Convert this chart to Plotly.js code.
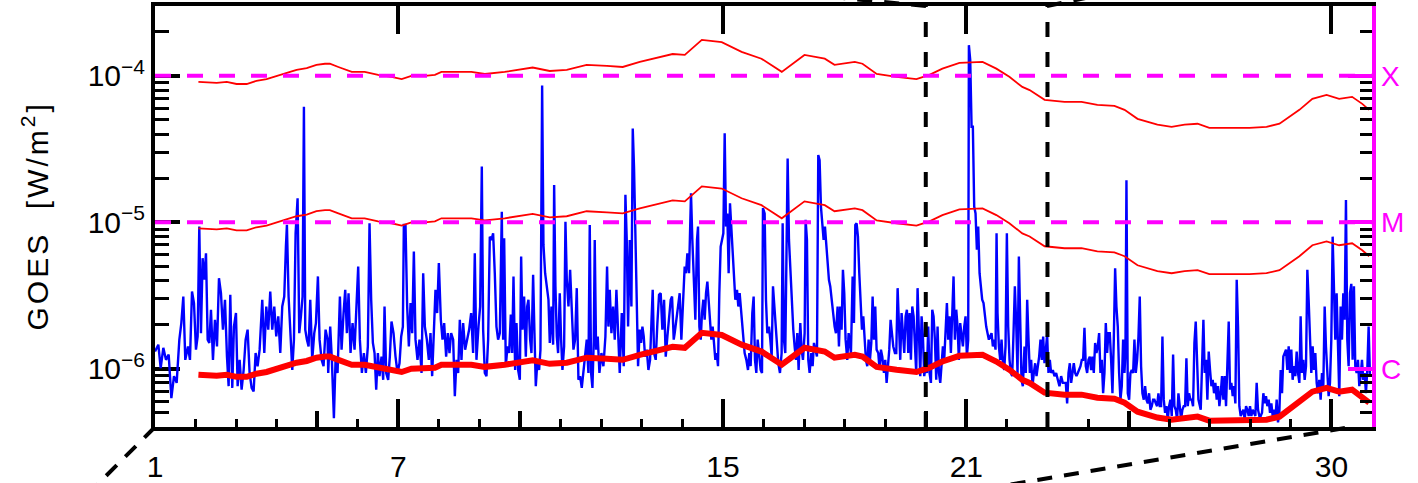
<!DOCTYPE html>
<html>
<head>
<meta charset="utf-8">
<script src="https://cdn.plot.ly/plotly-3.0.1.min.js"></script>
<style>
html,body{margin:0;padding:0;background:#ffffff;}
#chart{width:1418px;height:483px;}
.annotation-text{letter-spacing:3px;}
</style>
</head>
<body>
<div id="chart"></div>
<script>
// ---------------- data ----------------
// time axis: day of month
const goesDay = [
1.000,1.082,1.140,1.205,1.271,1.337,1.403,1.468,1.534,1.600,
1.649,1.698,1.747,1.813,1.862,1.912,1.961,2.010,2.051,2.092,
2.133,2.174,2.216,2.257,2.298,2.339,2.380,2.429,2.478,2.528,
2.577,2.626,2.675,2.725,2.774,2.815,2.856,2.905,2.946,2.996,
3.037,3.086,3.135,3.185,3.234,3.283,3.332,3.382,3.431,3.480,
3.529,3.579,3.644,3.694,3.743,3.792,3.841,3.891,3.940,3.989,
4.039,4.088,4.137,4.186,4.227,4.252,4.293,4.334,4.384,4.425,
4.466,4.515,4.556,4.597,4.638,4.671,4.704,4.745,4.786,4.827,
4.876,4.926,4.967,5.016,5.057,5.106,5.155,5.205,5.254,
5.270,5.319,5.360,5.410,5.451,5.500,5.558,5.599,5.648,5.689,
5.730,5.771,5.820,5.870,5.919,5.968,6.009,6.050,6.100,6.149,
6.198,6.247,6.288,6.329,6.371,6.412,6.453,6.494,6.535,6.584,
6.625,6.658,6.699,6.748,6.789,6.830,6.880,6.929,6.978,7.027,
7.069,7.110,7.134,7.175,7.216,7.258,7.299,7.340,7.381,7.422,
7.471,7.520,7.570,7.611,7.652,7.701,7.750,7.791,7.832,7.873,
7.914,7.955,7.997,8.046,8.087,8.128,8.177,8.218,8.259,8.300,
8.350,8.391,8.432,8.473,8.514,8.555,8.596,8.645,8.695,8.744,
8.793,8.842,8.883,8.924,8.974,9.015,9.056,9.089,9.130,9.171,
9.212,9.253,9.294,9.335,9.376,9.417,9.458,
9.500,9.549,9.582,9.607,9.648,9.689,9.730,9.771,9.804,9.837,
9.878,9.911,9.952,9.993,10.026,10.058,10.099,10.141,10.173,10.206,
10.247,10.280,10.321,10.354,10.387,10.428,10.469,10.502,10.543,10.576,
10.617,10.658,10.699,10.732,10.773,10.814,10.839,10.871,10.904,10.937,
10.978,11.011,11.044,11.085,11.118,11.151,11.192,11.233,11.274,11.315,
11.356,11.397,11.438,11.479,11.520,11.561,11.602,11.643,11.684,11.717,
11.750,11.783,11.816,11.840,11.873,11.914,11.955,12.005,12.054,12.103,
12.144,12.177,12.210,12.251,12.292,12.333,12.374,12.415,12.456,12.506,
12.555,12.596,12.629,12.662,12.703,12.744,12.777,12.809,12.842,12.875,
12.908,12.949,12.982,13.015,13.048,13.080,13.122,13.163,13.204,13.237,
13.269,13.302,13.343,13.384,13.425,13.466,13.507,13.549,13.590,13.631,
13.672,13.713,13.746,13.787,
13.811,13.852,13.893,13.934,13.975,14.016,14.057,14.090,14.123,14.164,
14.189,14.213,14.246,14.287,14.320,14.361,14.386,14.419,14.452,14.484,
14.517,14.550,14.583,14.616,14.649,14.681,14.714,14.747,14.780,14.813,
14.846,14.879,14.911,14.944,14.977,15.010,15.043,15.076,15.108,15.141,
15.174,15.207,15.240,15.273,15.305,15.347,15.379,15.412,15.453,15.494,
15.535,15.577,15.618,15.650,15.683,15.724,15.757,15.790,15.823,15.856,
15.889,15.930,15.963,15.987,16.028,16.061,16.094,16.135,16.168,16.201,
16.234,16.266,16.299,16.332,16.365,16.406,16.447,16.472,16.504,16.537,
16.570,16.595,16.628,16.661,16.702,16.734,16.767,16.800,16.833,16.866,
16.907,16.940,16.973,17.014,17.038,17.071,17.104,17.137,17.178,17.211,
17.244,17.285,17.318,17.350,17.383,17.416,17.449,17.482,17.515,17.547,
17.580,17.613,17.646,17.679,17.720,17.753,17.786,17.827,17.860,17.892,
17.925,17.958,17.991,18.024,18.065,18.098,
18.156,18.197,18.230,18.263,18.295,18.328,18.361,18.394,18.427,18.460,
18.493,18.525,18.558,18.591,18.624,18.657,18.690,18.722,18.755,18.788,
18.829,18.862,18.895,18.928,18.969,19.002,19.035,19.067,19.100,19.133,
19.166,19.199,19.240,19.273,19.306,19.338,19.371,19.404,19.437,19.470,
19.503,19.535,19.568,19.601,19.634,19.667,19.700,19.733,19.765,19.798,
19.831,19.864,19.897,19.930,19.962,19.995,20.028,20.061,20.094,20.127,
20.160,20.192,20.225,20.258,20.291,20.324,20.357,20.390,20.422,20.455,
20.488,20.521,20.554,20.587,20.619,20.652,20.685,20.718,20.751,20.784,
20.816,20.849,20.882,20.915,20.948,20.981,21.014,21.046,21.063,21.096,
21.129,21.161,21.194,21.227,21.260,21.293,21.326,21.359,21.391,21.424,
21.457,21.490,21.523,21.556,21.588,21.621,21.654,21.687,21.720,21.745,
21.769,21.802,21.835,21.868,21.901,21.934,21.966,21.999,22.032,22.065,
22.098,22.130,22.163,22.196,22.229,22.262,22.295,22.327,22.360,22.393,
22.434,22.467,22.500,22.533,22.565,22.598,22.631,22.664,22.697,22.730,
22.762,22.795,22.828,22.861,22.894,22.927,22.960,22.992,23.025,23.058,
23.091,23.132,23.173,23.214,23.255,23.296,23.337,23.378,23.419,23.452,
23.485,23.518,23.551,23.584,23.617,23.649,23.682,23.715,23.748,23.781,
23.814,23.846,23.879,23.912,23.945,23.978,24.011,24.044,24.076,24.109,
24.142,24.175,24.208,24.241,24.273,24.306,24.339,24.372,24.405,24.438,
24.471,24.503,24.536,24.569,24.602,24.635,24.668,24.700,24.733,24.766,
24.799,24.832,24.865,24.898,24.922,24.947,24.980,25.013,25.045,25.078,
25.111,25.144,25.177,25.210,25.243,25.275,25.308,25.341,25.374,25.407,
25.440,25.472,25.505,25.538,25.571,25.604,25.637,25.670,25.702,25.735,
25.768,25.801,25.834,25.867,25.899,25.932,25.965,25.998,26.031,26.064,
26.097,26.129,26.162,26.195,26.228,26.261,26.294,26.326,26.359,26.392,
26.425,26.458,26.491,26.523,26.556,26.589,26.622,26.655,26.688,26.721,
26.778,26.811,26.844,26.876,26.909,26.942,26.975,27.008,27.041,27.073,
27.106,27.139,27.172,27.205,27.238,27.271,27.303,27.336,27.369,27.402,
27.435,27.468,27.500,27.533,27.566,27.599,27.632,27.665,27.698,27.730,
27.763,27.796,27.829,27.862,27.895,27.928,27.960,27.993,28.026,28.059,
28.092,28.125,28.157,28.190,28.223,28.256,28.289,28.322,28.355,28.387,
28.420,28.453,28.486,28.519,28.552,28.584,28.617,28.650,28.683,28.716,
28.749,28.782,28.814,28.847,28.880,28.913,28.946,28.979,29.011,29.044,
29.077,29.110,29.143,29.176,29.209,29.241,29.274,29.307,29.340,29.373,
29.406,29.438,29.471,29.504,29.537,29.570,29.603,29.636,29.668,29.701,
29.734,29.767,29.800,29.833,29.865,29.898,29.931,29.964,29.997,30.030,
30.063,30.095,30.128,30.161,30.194,30.227,30.260,30.292,30.325,30.358,
30.391,30.424,30.457,30.490,30.522,30.555,30.588,30.621,30.654,30.687,
30.720,30.753,30.785,30.818,30.851,30.884,30.917,30.950
];
// GOES X-ray flux, in units of 1e-6 W/m^2
const goesFluxMicro = [
1.31,1.46,1.01,1.39,1.15,1.25,0.63,0.89,0.80,1.58,
2.05,3.11,1.15,1.42,1.15,3.37,2.81,1.35,1.66,9.35,
1.75,5.69,4.05,6.15,1.58,1.50,2.53,1.15,2.16,1.42,
4.15,3.28,1.85,2.96,1.21,0.76,3.20,0.74,1.94,2.40,
0.76,1.15,0.72,0.98,1.58,1.85,0.935,0.74,0.70,1.28,
1.04,1.35,2.96,1.28,2.66,1.85,3.37,1.85,2.66,1.66,
2.28,1.28,2.66,3.11,6.83,9.6,3.11,1.75,0.98,1.58,
8.41,14.6,1.75,2.28,3.11,61.5,1.85,1.58,1.42,2.96,
1.15,1.75,2.05,4.27,1.58,1.15,1.04,1.85,1.58,
0.935,1.94,1.15,0.46,1.15,0.935,3.11,1.35,2.40,3.46,
1.75,3.28,1.28,2.05,1.35,3.11,4.99,1.58,0.935,1.28,
0.935,1.42,9.85,2.96,1.50,1.28,0.72,1.28,0.89,1.21,
0.84,2.66,0.935,0.84,1.21,2.10,1.75,1.21,0.935,1.09,
1.66,1.94,9.6,9.6,2.66,1.42,2.81,1.75,6.31,1.58,
1.15,1.58,0.935,4.49,1.94,1.58,1.15,1.75,0.89,1.75,
3.46,2.40,5.26,2.16,1.58,2.05,1.21,1.75,1.28,1.75,
1.58,0.65,1.15,0.935,2.16,1.15,2.05,1.35,1.58,1.85,
2.40,1.28,6.15,1.15,1.94,2.66,24.0,1.85,0.935,0.89,
1.58,7.98,7.58,8.41,4.49,1.94,1.58,
1.75,11.8,1.58,7.78,1.04,1.42,1.28,2.34,1.28,4.27,
0.98,2.05,0.98,0.84,5.83,1.85,3.11,1.21,2.66,2.96,
1.58,1.28,4.38,1.75,0.76,1.15,0.98,1.35,86,7.01,
4.49,3.65,2.96,1.50,2.66,1.46,18.0,3.65,1.66,1.28,
3.28,1.58,0.98,1.42,10.1,4.05,2.66,4.74,2.16,1.35,
1.58,3.55,0.84,0.89,0.74,0.935,1.28,1.58,0.935,9.6,
0.935,0.74,1.58,7.58,1.35,1.66,0.935,1.28,1.04,1.66,
4.99,1.94,3.46,1.75,2.66,1.58,3.46,1.75,0.935,2.40,
1.04,15.4,7.58,1.94,7.58,2.66,43.7,23.4,7.58,2.16,
1.04,1.85,1.50,1.94,1.66,1.21,1.35,0.98,1.15,2.05,
3.46,1.28,1.15,2.05,3.20,3.28,1.85,2.96,1.21,1.66,
2.16,2.96,3.11,1.58,
1.75,2.16,2.81,3.28,1.58,2.96,4.99,4.49,6.15,4.49,
9.6,15.8,7.58,4.05,2.16,7.58,9.35,1.94,1.58,2.40,
2.96,2.16,3.28,3.94,2.96,2.40,1.58,1.94,1.35,1.15,
1.28,1.04,3.28,6.83,7.58,8.41,40.5,9.35,11.5,4.49,
13.5,9.35,6.83,4.49,2.96,3.46,2.66,3.28,2.40,1.94,
1.28,1.15,0.98,1.28,1.04,2.40,3.11,1.15,0.935,1.58,
1.21,0.98,0.935,12.5,11.5,2.96,1.75,1.94,1.58,1.21,
3.65,2.66,1.85,1.28,1.09,0.935,1.28,9.85,1.58,1.28,
8.41,27.3,7.58,4.74,3.28,1.85,1.42,1.15,1.75,0.98,
2.05,1.35,1.15,1.75,10.4,7.58,1.15,0.935,1.28,1.04,
1.50,1.28,1.21,28.8,26.6,12.8,9.35,7.58,9.35,6.83,
5.54,4.05,3.65,2.96,2.40,1.94,1.75,2.66,1.42,2.66,
1.85,4.74,3.28,1.58,1.15,1.75,
1.28,4.27,2.05,9.6,9.85,7.98,4.49,2.81,1.85,2.28,
1.58,1.15,1.04,1.58,1.15,1.50,3.11,1.58,2.66,1.35,
1.28,0.98,1.35,1.21,0.935,1.15,0.80,0.98,1.35,2.16,
1.75,1.42,1.28,1.28,3.55,1.94,1.15,2.40,1.58,1.28,
2.28,2.53,1.28,2.40,1.15,2.66,2.28,1.28,0.935,3.55,
1.58,0.89,2.28,1.66,0.89,1.04,0.935,1.94,0.935,0.80,
2.53,2.28,1.58,0.84,1.94,0.935,0.80,1.04,1.42,1.15,
1.94,2.81,1.58,2.28,1.28,2.40,4.27,1.58,2.53,1.94,
1.15,2.05,1.66,1.42,1.94,2.28,1.21,1.58,162,128,
44.9,44.9,12.8,11.5,6.5,9.35,4.49,3.65,2.96,2.81,
2.28,1.94,1.75,1.58,1.66,1.75,1.42,1.58,1.35,8.41,
2.40,1.42,1.15,1.58,1.09,0.98,1.42,8.41,1.94,1.15,
0.935,0.89,1.75,3.65,2.05,0.935,5.83,1.58,0.84,0.76,
1.42,0.935,2.96,1.58,0.935,1.15,0.76,0.935,1.09,0.89,
1.04,1.21,1.58,1.15,1.66,1.09,1.35,1.71,0.935,1.15,
0.935,0.98,0.89,0.935,0.84,0.76,0.89,0.80,0.80,0.80,
0.58,0.935,1.09,0.80,0.935,1.09,0.935,0.89,0.935,0.98,
1.04,1.15,1.15,1.90,1.04,0.935,1.15,1.21,0.98,1.21,
0.935,1.50,1.28,1.42,1.75,0.935,1.15,0.68,0.935,2.05,
1.28,1.75,1.75,1.15,0.68,1.58,4.86,2.66,1.94,0.935,
0.615,0.76,1.58,0.935,1.28,19.4,0.68,0.615,0.935,0.98,
0.935,1.58,0.935,1.15,1.66,3.11,1.04,0.68,0.615,0.76,
0.615,0.58,0.68,0.525,0.555,0.615,0.615,0.58,0.555,0.68,
0.555,0.555,1.66,0.615,0.50,0.555,0.45,0.555,0.615,0.475,
1.25,0.555,0.525,0.45,0.68,0.555,0.45,0.525,0.555,0.555,
1.18,0.555,0.68,0.615,0.615,0.555,1.50,2.10,0.935,0.615,
0.525,1.35,2.16,0.935,1.15,0.615,1.31,0.98,0.76,0.84,
0.68,0.80,0.615,0.76,0.555,0.68,0.89,0.615,0.89,0.555,
0.935,2.10,0.72,0.80,0.65,0.76,0.58,4.05,1.94,0.555,
0.475,0.50,0.525,0.45,0.555,0.525,0.475,0.555,0.475,0.525,
0.50,0.475,0.80,0.525,0.475,0.475,0.50,0.68,0.58,0.65,
0.555,0.615,0.50,0.58,0.475,0.525,0.45,0.615,0.43,0.50,
0.98,0.68,1.21,1.28,1.35,0.98,1.42,0.935,1.35,0.84,
1.04,0.89,1.31,0.935,0.80,2.28,0.935,1.15,0.84,1.04,
4.74,2.96,1.58,0.935,1.42,0.98,1.28,0.80,0.68,0.84,
0.615,0.935,0.76,2.66,1.42,0.935,0.65,0.80,1.58,7.98,
2.66,1.58,3.28,1.21,0.65,2.66,1.58,3.28,2.16,14.2,
1.58,1.04,3.28,3.8,1.15,3.65,1.04,0.935,1.15,0.76,
0.89,1.15,0.84,0.935,0.68,0.98,1.94,0.89
];

// background level (thick red) and the 10x / 100x levels (thin red), units 1e-6 W/m^2
const bgDay = [
2.07,2.52,2.77,3.01,3.26,3.50,3.75,4.00,4.24,4.49,
4.74,4.98,5.19,5.31,5.52,5.85,6.17,6.50,6.83,7.08,
7.32,7.65,7.90,8.06,8.47,8.80,9.13,9.46,9.62,10.31,
10.73,11.15,11.64,12.14,12.53,12.95,13.44,13.76,14.06,14.48,
14.97,15.46,15.95,16.45,17.01,17.51,17.75,18.25,18.44,18.79,
19.28,19.77,20.09,20.41,20.83,21.40,21.74,22.06,22.38,22.56,
22.93,23.42,23.84,24.23,24.65,24.90,25.22,25.71,26.06,26.38,
26.70,26.99,27.98,28.40,28.72,28.96,29.21,29.53,29.88,30.19,
30.51,30.76,30.93
];
const bgFluxMicro = [
0.91,0.895,0.91,0.88,0.88,0.925,0.95,1.00,1.05,1.10,
1.13,1.19,1.21,1.21,1.15,1.065,1.065,1.016,0.985,0.95,
1.00,1.00,1.016,1.065,1.065,1.065,1.03,1.05,1.065,1.14,
1.08,1.10,1.19,1.17,1.15,1.245,1.35,1.41,1.39,1.76,
1.70,1.46,1.31,1.065,1.39,1.31,1.19,1.245,1.21,1.03,
0.985,0.95,1.016,1.12,1.225,1.245,1.12,0.985,0.84,0.80,
0.686,0.665,0.665,0.634,0.624,0.586,0.509,0.464,0.449,0.464,
0.471,0.442,0.442,0.449,0.471,0.526,0.586,0.697,0.741,0.697,
0.719,0.644,0.586
];
const bg10FluxMicro = [
9.1,8.95,9.1,8.8,8.8,9.25,9.5,10.0,10.5,11.0,
11.3,11.9,12.1,12.1,11.5,10.65,10.65,10.16,9.85,9.5,
10.0,10.0,10.16,10.65,10.65,10.65,10.3,10.5,10.65,11.4,
10.8,11.0,11.9,11.7,11.5,12.45,13.5,14.1,13.9,17.6,
17.0,14.6,13.1,10.65,13.9,13.1,11.9,12.45,12.1,10.3,
9.85,9.5,10.16,11.2,12.25,12.45,11.2,9.85,8.4,8.0,
6.86,6.65,6.65,6.34,6.24,5.86,5.09,4.64,4.49,4.64,
4.71,4.42,4.42,4.49,4.71,5.26,5.86,6.97,7.41,6.97,
7.19,6.44,5.86
];
const bg100FluxMicro = [
91,89.5,91,88,88,92.5,95,100,105,110,
113,119,121,121,115,106.5,106.5,101.6,98.5,95,
100,100,101.6,106.5,106.5,106.5,103,105,106.5,114,
108,110,119,117,115,124.5,135,141,139,176,
170,146,131,106.5,139,131,119,124.5,121,103,
98.5,95,101.6,112,122.5,124.5,112,98.5,84,80,
68.6,66.5,66.5,63.4,62.4,58.6,50.9,46.4,44.9,46.4,
47.1,44.2,44.2,44.9,47.1,52.6,58.6,69.7,74.1,69.7,
71.9,64.4,58.6
];

// flare class thresholds and labels
const classLevels = [1e-6, 1e-5, 1e-4];
const classLabels = ['C', 'M', 'X'];
const dashedClassLevels = [1e-5, 1e-4];
// axis ticks
const dayRange = [1, 31];
const fluxRange = [4e-7, 3e-4];
const xTickVals = [1, 7, 15, 21, 30];
const xTickText = ['1', '7', '15', '21', '30'];
const xMidTicks = [5, 10, 20, 25];
const xSmallTicks = [2,3,4,6,8,9,11,12,13,14,16,17,18,19,22,23,24,26,27,28,29,31];
const yTickText = ['10<sup>\u22126</sup>', '10<sup>\u22125</sup>', '10<sup>\u22124</sup>'];
// marked interval (vertical dashed lines)
const markerDays = [20, 23];

// ---------------- figure ----------------
const FONT = 'Liberation Sans, Arial, sans-serif';
const MAGENTA = '#ff00ff';
const micro = v => v * 1e-6;
const logRange = fluxRange.map(v => Math.log10(v));

const yMinorTicks = [];
for (let d = -7; d <= -4; d++) {
  for (let m = 2; m <= 9; m++) {
    const v = m * Math.pow(10, d);
    if (v > fluxRange[0] * 1.01 && v < fluxRange[1] * 0.99) yMinorTicks.push(v);
  }
}

const traces = [
  {x: goesDay, y: goesFluxMicro.map(micro), type: 'scatter', mode: 'lines',
   line: {color: '#0000ff', width: 2.4}, hoverinfo: 'skip'},
  {x: bgDay, y: bg100FluxMicro.map(micro), type: 'scatter', mode: 'lines',
   line: {color: '#ff0000', width: 1.8}, hoverinfo: 'skip'},
  {x: bgDay, y: bg10FluxMicro.map(micro), type: 'scatter', mode: 'lines',
   line: {color: '#ff0000', width: 1.8}, hoverinfo: 'skip'}
];
dashedClassLevels.forEach(lv => traces.push({
  x: dayRange, y: [lv, lv], type: 'scatter', mode: 'lines',
  line: {color: MAGENTA, width: 4, dash: '16px,16px'}, hoverinfo: 'skip'
}));
traces.push({x: bgDay, y: bgFluxMicro.map(micro), type: 'scatter', mode: 'lines',
  line: {color: '#ff0000', width: 6}, hoverinfo: 'skip'});
// empty helper traces so every overlay axis gets its subplot
[['x2','y'],['x3','y'],['x4','y'],['x','y2'],['x','y3'],['x','y4']].forEach(p => traces.push({
  x: [], y: [], type: 'scatter', mode: 'lines', xaxis: p[0], yaxis: p[1], hoverinfo: 'skip', showlegend: false
}));

const baseX = {range: dayRange, showgrid: false, zeroline: false, anchor: 'y', fixedrange: true};
const baseY = {type: 'log', range: logRange, showgrid: false, zeroline: false, anchor: 'x', fixedrange: true};

const shapes = markerDays.map(d => ({
  type: 'line', xref: 'x', yref: 'paper', x0: d, x1: d, y0: 0, y1: 1,
  line: {color: '#000', width: 4, dash: '15px,15px'}, layer: 'above'
}));
// zoom-connector dashed lines that run out of the frame
[[0, 0, -0.0551, -0.1591], [0.9778, -0.0024, 0.6861, -0.1449],
 [0.6335, 1.0, 0.5053, 1.0356], [0.7329, 1.0, 0.7806, 1.0285]].forEach(c => shapes.push({
  type: 'line', xref: 'paper', yref: 'paper', x0: c[0], y0: c[1], x1: c[2], y1: c[3],
  line: {color: '#000', width: 4, dash: '15px,12px'}, layer: 'above'
}));

const layout = {
  width: 1418, height: 483,
  margin: {l: 155, r: 46, t: 6, b: 56, pad: 0},
  paper_bgcolor: '#ffffff', plot_bgcolor: '#ffffff',
  showlegend: false, hovermode: false,
  font: {family: FONT, color: '#000', size: 30},
  xaxis: Object.assign({}, baseX, {
    tickmode: 'array', tickvals: xTickVals, ticktext: xTickText,
    ticks: 'inside', ticklen: 28, tickwidth: 4, tickcolor: '#000',
    showline: true, linecolor: '#000', linewidth: 4,
    tickfont: {family: FONT, size: 30, color: '#000'}, ticklabelstandoff: 10
  }),
  xaxis2: Object.assign({}, baseX, {
    overlaying: 'x', side: 'top', tickmode: 'array', tickvals: xTickVals,
    ticks: 'inside', ticklen: 28, tickwidth: 4, tickcolor: '#000', showticklabels: false,
    showline: true, linecolor: '#000', linewidth: 4
  }),
  xaxis3: Object.assign({}, baseX, {
    overlaying: 'x', side: 'bottom', tickmode: 'array', tickvals: xMidTicks,
    ticks: 'inside', ticklen: 16, tickwidth: 4, tickcolor: '#000', showticklabels: false, showline: false
  }),
  xaxis4: Object.assign({}, baseX, {
    overlaying: 'x', side: 'bottom', tickmode: 'array', tickvals: xSmallTicks,
    ticks: 'inside', ticklen: 8, tickwidth: 3, tickcolor: '#000', showticklabels: false, showline: false
  }),
  yaxis: Object.assign({}, baseY, {
    tickmode: 'array', tickvals: classLevels, ticktext: yTickText,
    ticks: 'inside', ticklen: 25, tickwidth: 4, tickcolor: '#000',
    showline: true, linecolor: '#000', linewidth: 4, layer: 'below traces',
    tickfont: {family: FONT, size: 30, color: '#000'}
  }),
  yaxis4: Object.assign({}, baseY, {
    overlaying: 'y', side: 'left', tickmode: 'array', tickvals: yMinorTicks,
    ticks: 'inside', ticklen: 14, tickwidth: 3, tickcolor: '#000', showticklabels: false,
    showline: false, layer: 'below traces'
  }),
  yaxis2: Object.assign({}, baseY, {
    overlaying: 'y', side: 'right', tickmode: 'array', tickvals: yMinorTicks,
    ticks: 'inside', ticklen: 12, tickwidth: 3, tickcolor: '#000', showticklabels: false,
    showline: true, linecolor: MAGENTA, linewidth: 4
  }),
  yaxis3: Object.assign({}, baseY, {
    overlaying: 'y', side: 'right', tickmode: 'array', tickvals: classLevels, ticktext: classLabels,
    ticks: 'inside', ticklen: 24, tickwidth: 4, tickcolor: MAGENTA, showline: false,
    tickfont: {family: FONT, size: 28, color: MAGENTA}, ticklabelstandoff: 8
  }),
  shapes: shapes,
  annotations: [{
    xref: 'paper', yref: 'paper', x: -0.0986, y: 0.5, xanchor: 'center', yanchor: 'middle',
    text: 'GOES\u00a0\u00a0[W/m<sup>2</sup>]', textangle: -90, showarrow: false,
    font: {family: FONT, size: 30, color: '#000'}
  }]
};

Plotly.newPlot('chart', traces, layout, {displayModeBar: false, staticPlot: true, responsive: false});
</script>
</body>
</html>
